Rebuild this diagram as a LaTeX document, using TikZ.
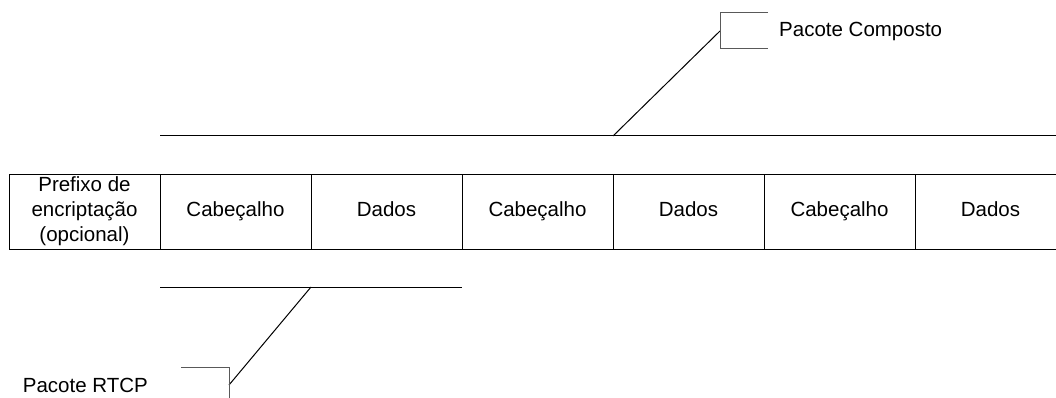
\documentclass[tikz,border=0pt]{standalone}
\usepackage{fontspec}
\setmainfont{Liberation Sans}
\usetikzlibrary{positioning,calc}

\begin{document}
\begin{tikzpicture}[
  x=1pt,y=-1pt,
  node distance=0pt,
  campo/.style={draw,line width=1pt,outer sep=0pt,inner sep=0pt,
                minimum width=151pt,minimum height=75pt,align=center,
                font=\fontsize{20.5}{25}\selectfont},
  curto/.style={campo,text height=15pt,text depth=4.5pt},
  linha/.style={line width=1pt},
  chave/.style={draw=black!65,line width=1pt},
  rotulo/.style={inner sep=0pt,font=\fontsize{20.5}{25}\selectfont}
]
\useasboundingbox (0,0) rectangle (1056,398);

% campos do pacote
\node[campo,anchor=west] (prefixo) at (9,211.5) {Prefixo de\\encriptação\\(opcional)};
\node[curto,right=of prefixo] (cab1) {Cabeçalho};
\node[curto,right=of cab1] (dados1) {Dados};
\node[curto,right=of dados1] (cab2) {Cabeçalho};
\node[curto,right=of cab2] (dados2) {Dados};
\node[curto,right=of dados2] (cab3) {Cabeçalho};
\node[curto,right=of cab3] (dados3) {Dados};

% chaveta de cima: pacote composto
\coordinate (compA) at ($(cab1.north west)+(0,-38)$);
\coordinate (compB) at ($(dados3.north east)+(0,-38)$);
\draw[linha] (compA) -- (compB);
\coordinate (compMeio) at ($(compA)!0.5!(compB)$);
\coordinate (compPonta) at (720,31);
\draw[linha] (compMeio) -- (compPonta);
\draw[chave] ($(compPonta)+(48,-18)$) -- ($(compPonta)+(0,-18)$)
  -- ($(compPonta)+(0,18)$) -- ($(compPonta)+(48,18)$);
\node[rotulo,anchor=west] (composto) at ($(compPonta)+(59,0)$) {Pacote Composto};

% chaveta de baixo: pacote RTCP
\coordinate (rtcpA) at ($(cab1.south west)+(0,38)$);
\coordinate (rtcpB) at ($(dados1.south east)+(0,38)$);
\draw[linha] (rtcpA) -- (rtcpB);
\coordinate (rtcpMeio) at ($(rtcpA)!0.5!(rtcpB)$);
\coordinate (rtcpPonta) at (229,385);
\draw[linha] (rtcpMeio) -- (rtcpPonta);
\draw[chave] ($(rtcpPonta)+(-48,-18)$) -- ($(rtcpPonta)+(0,-18)$)
  -- ($(rtcpPonta)+(0,18)$) -- ($(rtcpPonta)+(-48,18)$);
\node[rotulo,anchor=east] (rtcp) at ($(rtcpPonta)+(-81,0)$) {Pacote RTCP};
\end{tikzpicture}
\end{document}
